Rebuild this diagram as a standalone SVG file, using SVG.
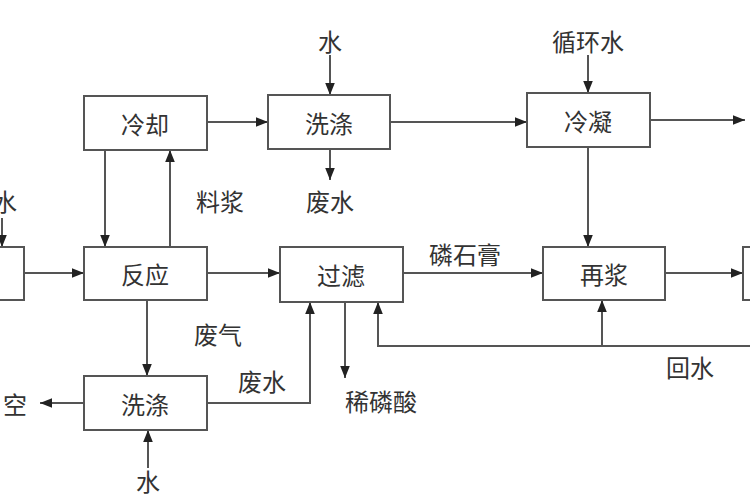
<svg xmlns="http://www.w3.org/2000/svg" width="750" height="500" viewBox="0 0 750 500">
<style>
.b{fill:#fff;stroke:#555;stroke-width:2}
.t{font-family:"Noto Sans CJK SC",sans-serif;font-size:24px;fill:#333;text-anchor:middle;dominant-baseline:central}
.c path{fill:none;stroke:#555;stroke-width:2}
</style>
<defs><marker id="a" viewBox="0 0 10 10" refX="10" refY="5" markerWidth="6" markerHeight="6" orient="auto"><path d="M0,1L10,5L0,9z" fill="#222"/></marker></defs>
<rect width="750" height="500" fill="#fff"/>
<g class="c">
<path d="M207,122H268" marker-end="url(#a)"/>
<path d="M330,55V95" marker-end="url(#a)"/>
<path d="M330,149V180" marker-end="url(#a)"/>
<path d="M390,122H527" marker-end="url(#a)"/>
<path d="M588,55V93" marker-end="url(#a)"/>
<path d="M650,120H745" marker-end="url(#a)"/>
<path d="M588,147V247" marker-end="url(#a)"/>
<path d="M105,150V247" marker-end="url(#a)"/>
<path d="M170,247V150" marker-end="url(#a)"/>
<path d="M24,273H84" marker-end="url(#a)"/>
<path d="M2,218V247" marker-end="url(#a)"/>
<path d="M207,273H280" marker-end="url(#a)"/>
<path d="M403,273H543" marker-end="url(#a)"/>
<path d="M665,273H743" marker-end="url(#a)"/>
<path d="M750,346H378V302" marker-end="url(#a)"/>
<path d="M602,346V300" marker-end="url(#a)"/>
<path d="M147,300V376" marker-end="url(#a)"/>
<path d="M84,403H40" marker-end="url(#a)"/>
<path d="M207,403H310V302" marker-end="url(#a)"/>
<path d="M345,302V378" marker-end="url(#a)"/>
<path d="M148,468V430" marker-end="url(#a)"/>
</g>
<g id="n1"><rect class="b" x="84" y="96" width="123" height="54"/><text class="t" x="145" y="123">冷却</text></g>
<g id="n2"><rect class="b" x="268" y="95" width="122" height="54"/><text class="t" x="329" y="122">洗涤</text></g>
<g id="n3"><rect class="b" x="527" y="93" width="123" height="54"/><text class="t" x="588" y="120">冷凝</text></g>
<g id="n4"><rect class="b" x="-20" y="247" width="44" height="53"/></g>
<g id="n5"><rect class="b" x="84" y="247" width="123" height="53"/><text class="t" x="145" y="273">反应</text></g>
<g id="n6"><rect class="b" x="280" y="247" width="123" height="55"/><text class="t" x="341" y="274">过滤</text></g>
<g id="n7"><rect class="b" x="543" y="247" width="122" height="53"/><text class="t" x="604" y="273">再浆</text></g>
<g id="n8"><rect class="b" x="743" y="247" width="30" height="53"/></g>
<g id="n9"><rect class="b" x="84" y="376" width="123" height="54"/><text class="t" x="145" y="403">洗涤</text></g>
<g id="labels">
<text class="t" x="330" y="40">水</text>
<text class="t" x="588" y="40">循环水</text>
<text class="t" x="330" y="200">废水</text>
<text class="t" x="220" y="200">料浆</text>
<text class="t" x="5" y="200">水</text>
<text class="t" x="465" y="253">磷石膏</text>
<text class="t" x="218" y="333">废气</text>
<text class="t" x="690" y="366">回水</text>
<text class="t" x="15" y="403">空</text>
<text class="t" x="262" y="380">废水</text>
<text class="t" x="381" y="400">稀磷酸</text>
<text class="t" x="148" y="480">水</text>
</g>
</svg>
